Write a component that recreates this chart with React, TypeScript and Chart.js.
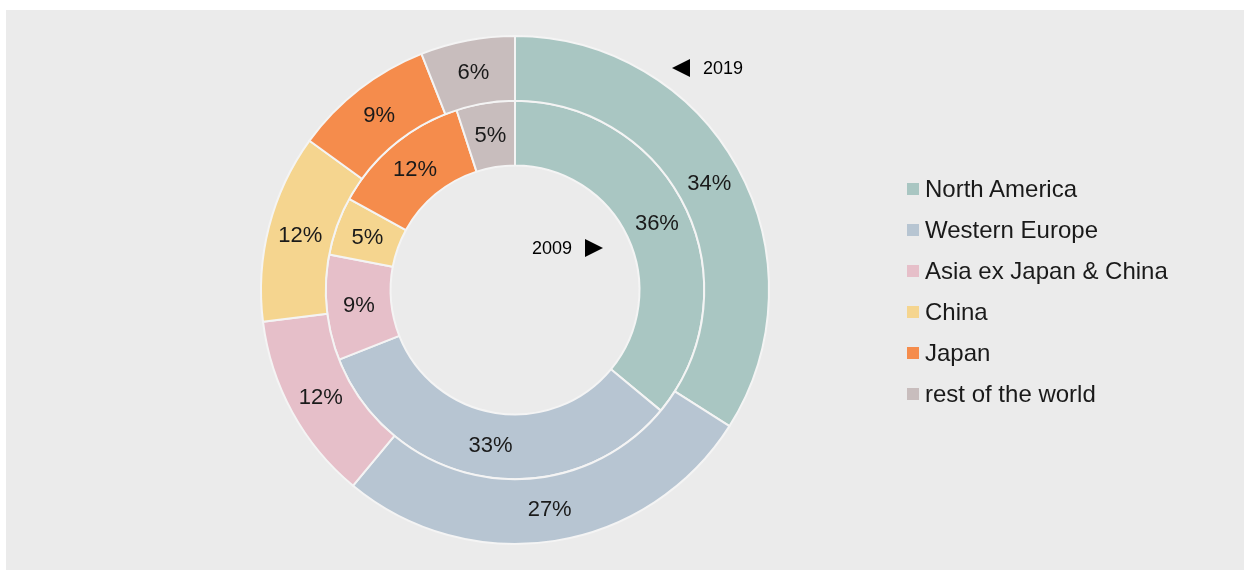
import React, { useEffect, useRef } from "react";
import { Chart, registerables } from "chart.js";

Chart.register(...registerables);

const categories = [
  "North America",
  "Western Europe",
  "Asia ex Japan & China",
  "China",
  "Japan",
  "rest of the world",
];
const values2019 = [34, 27, 12, 12, 9, 6];
const values2009 = [36, 33, 9, 5, 12, 5];
const colors = ["#a9c6c2", "#b7c5d2", "#e6bfc9", "#f5d58f", "#f58c4c", "#c8bdbd"];
const ringLabels = ["2019", "2009"];

const FONT = "'Liberation Sans', Arial, sans-serif";

const labelPlugin = {
  id: "pctLabels",
  afterDatasetsDraw(chart: any) {
    const ctx = chart.ctx;
    ctx.save();
    ctx.font = `22px ${FONT}`;
    ctx.fillStyle = "#1a1a1a";
    ctx.textAlign = "center";
    ctx.textBaseline = "middle";
    chart.data.datasets.forEach((ds: any, di: number) => {
      const meta = chart.getDatasetMeta(di);
      meta.data.forEach((arc: any, i: number) => {
        const p = arc.tooltipPosition();
        ctx.fillText(ds.data[i] + "%", p.x, p.y + 1);
      });
    });

    // ring markers
    const a0 = chart.getDatasetMeta(0).data[0];
    const cx = a0.x;
    const cy = a0.y;
    ctx.fillStyle = "#000000";
    ctx.font = `18px ${FONT}`;
    ctx.textBaseline = "middle";

    // 2019 marker (outer ring), triangle pointing left
    const t1x = cx + 157;
    const t1y = cy - 222;
    ctx.beginPath();
    ctx.moveTo(t1x, t1y);
    ctx.lineTo(t1x + 18, t1y - 9);
    ctx.lineTo(t1x + 18, t1y + 9);
    ctx.closePath();
    ctx.fill();
    ctx.textAlign = "left";
    ctx.fillText(ringLabels[0], t1x + 31, t1y + 1);

    // 2009 marker (inner ring), triangle pointing right
    const t2x = cx + 88;
    const t2y = cy - 42;
    ctx.beginPath();
    ctx.moveTo(t2x, t2y);
    ctx.lineTo(t2x - 18, t2y - 9);
    ctx.lineTo(t2x - 18, t2y + 9);
    ctx.closePath();
    ctx.fill();
    ctx.textAlign = "right";
    ctx.fillText(ringLabels[1], t2x - 31, t2y + 1);
    ctx.restore();
  },
};

export default function App() {
  const ref = useRef<HTMLCanvasElement | null>(null);

  useEffect(() => {
    if (!ref.current) return;
    const chart = new Chart(ref.current, {
      type: "doughnut",
      data: {
        labels: categories,
        datasets: [
          {
            label: ringLabels[0],
            data: values2019,
            backgroundColor: colors,
            borderColor: "#f4f4f4",
            borderWidth: 2,
          },
          {
            label: ringLabels[1],
            data: values2009,
            backgroundColor: colors,
            borderColor: "#f4f4f4",
            borderWidth: 2,
          },
        ],
      },
      options: {
        animation: false,
        responsive: false,
        maintainAspectRatio: false,
        cutout: "49%",
        layout: { padding: { left: 260, right: 474, top: 35, bottom: 25 } },
        plugins: {
          legend: { display: false },
          tooltip: { enabled: false },
        },
      },
      plugins: [labelPlugin],
    });
    return () => chart.destroy();
  }, []);

  return (
    <div style={{ position: "absolute", left: 0, top: 0, width: 1244, height: 570, background: "#ffffff" }}>
      <div style={{ position: "absolute", left: 6, top: 10, width: 1238, height: 560, background: "#ebebeb" }} />
      <canvas ref={ref} width={1244} height={570} style={{ position: "absolute", left: 0, top: 0, width: 1244, height: 570 }} />
      <div style={{ position: "absolute", left: 907, top: 168, fontFamily: FONT, fontSize: 24, color: "#1a1a1a" }}>
        {categories.map((c, i) => (
          <div key={c} style={{ height: 41, display: "flex", alignItems: "center", whiteSpace: "nowrap" }}>
            <span style={{ display: "inline-block", width: 12, height: 12, background: colors[i], marginRight: 6 }} />
            <span>{c}</span>
          </div>
        ))}
      </div>
    </div>
  );
}
